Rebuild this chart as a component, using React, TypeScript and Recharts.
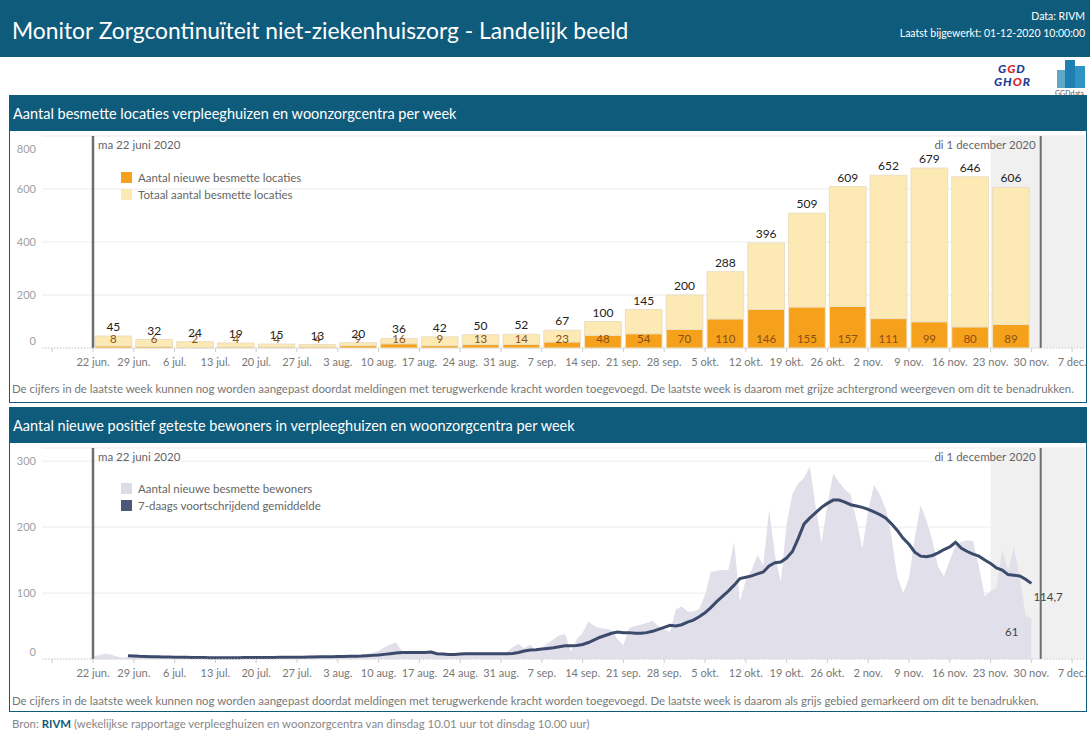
import React from "react";
import {
  Area,
  Bar,
  CartesianGrid,
  ComposedChart,
  LabelList,
  Line,
  ReferenceArea,
  ReferenceLine,
  XAxis,
  YAxis
} from "recharts";

// week ticks, day 0 = ma 22 juni 2020 (first tick is 15 jun, unlabeled)
const tickLabels = [
  "", "22 jun.", "29 jun.", "6 jul.", "13 jul.", "20 jul.", "27 jul.", "3 aug.", "10 aug.",
  "17 aug.", "24 aug.", "31 aug.", "7 sep.", "14 sep.", "21 sep.", "28 sep.", "5 okt.",
  "12 okt.", "19 okt.", "26 okt.", "2 nov.", "9 nov.", "16 nov.", "23 nov.", "30 nov.", "7 dec."
];
const tickDays = tickLabels.map((_, i) => (i - 1) * 7);

// weekly: total infected locations and new infected locations
const totaalLocaties = [45, 32, 24, 19, 15, 13, 20, 36, 42, 50, 52, 67, 100, 145, 200, 288, 396, 509, 609, 652, 679, 646, 606];
const nieuweLocaties = [8, 6, 2, 4, 4, 4, 9, 16, 9, 13, 14, 23, 48, 54, 70, 110, 146, 155, 157, 111, 99, 80, 89];

// daily new infected residents, 22 jun .. 30 nov
const nieuweBewoners = [
  3, 6, 8, 7, 4, 2, 3,
  5, 3, 2, 4, 3, 1, 2,
  2, 1, 3, 2, 1, 2, 1,
  1, 2, 3, 1, 2, 2, 3,
  2, 3, 1, 2, 4, 3, 2,
  3, 2, 4, 6, 5, 3, 2,
  4, 3, 5, 4, 6, 8, 10,
  12, 18, 22, 25, 12, 8, 9,
  9, 11, 14, 9, 6, 5, 7,
  8, 9, 7, 8, 10, 9, 8,
  7, 10, 18, 23, 16, 22, 13,
  16, 24, 30, 36, 38, 11, 30,
  40, 57, 50, 47, 46, 44, 30,
  21, 47, 50, 52, 55, 58, 50,
  45, 41, 75, 80, 72, 72, 76,
  97, 132, 134, 135, 135, 177, 87,
  120, 135, 158, 142, 226, 158, 117,
  205, 250, 266, 275, 292, 230, 176,
  235, 281, 268, 257, 250, 210, 168,
  225, 264, 250, 228, 185, 125, 100,
  122, 185, 233, 210, 180, 140, 125,
  150, 172, 178, 180, 179, 140, 95,
  103, 108, 165, 135, 170, 125, 66,
  61
];

// 7-day moving average, starts on day 6
const gemiddelde7 = [
  null, null, null, null, null, null, 5,
  4.5, 4, 3.8, 3.5, 3.3, 3, 3,
  2.8, 2.6, 2.5, 2.3, 2.2, 2.1, 2,
  1.9, 1.8, 1.8, 2, 2, 2.1, 2.1,
  2.2, 2.3, 2.4, 2.4, 2.5, 2.6, 2.7,
  2.7, 2.8, 3, 3.2, 3.5, 3.6, 3.6,
  3.7, 3.9, 4.1, 4.3, 4.5, 5, 5.5,
  6, 7, 8, 9, 10, 10, 10,
  10, 10, 10.5, 8, 7.5, 7, 7,
  7.5, 8, 8, 8, 8, 8, 8,
  8, 8, 8.5, 10, 12, 13.5, 14,
  15, 16, 17, 18.5, 20, 20, 20.5,
  22, 25, 29, 33, 36, 39, 41,
  40, 40, 39, 39, 40, 42, 45,
  48, 51, 50, 52, 56, 59, 64,
  70, 78, 87, 95, 103, 112, 122,
  124, 126, 129, 132, 141, 146, 147,
  153, 163, 183, 205, 214, 222, 230,
  236, 241, 241, 238, 234, 232, 230,
  227, 223, 219, 214, 205, 195, 183,
  174, 162, 156, 155, 157, 161, 166,
  170, 177, 168, 163, 159, 156, 150,
  145, 138, 135, 128, 127, 126, 121,
  114.7
];

const TEAL = "#0f5b7b";
const FONT = "Lato, 'Open Sans', sans-serif";
const X_DOMAIN = [-8.75, 170.2];
const LAST_WEEK = 154;
const TODAY = 162.6;

const locatieData = totaalLocaties.map((t, i) => ({
  dag: i * 7 + 3.5,
  nieuw: nieuweLocaties[i],
  rest: t - nieuweLocaties[i],
  totaal: t
}));

const bewonersData = nieuweBewoners.map((v, i) => ({
  dag: i,
  nieuw: v,
  gem: gemiddelde7[i]
}));

function DayTick(props: any) {
  const idx = tickDays.indexOf(props.payload.value);
  return (
    <text x={props.x} y={props.y + 12} textAnchor="middle" fontSize={11} fill="#777" fontFamily={FONT}>
      {idx >= 0 ? tickLabels[idx] : ""}
    </text>
  );
}

function makeValueTick(max: number) {
  return (props: any) => {
    const v = props.payload.value;
    const shift = v === max ? 10 : v === 0 ? -7 : 0;
    return (
      <text x={36} y={props.y + shift} dy="0.35em" textAnchor="end" fontSize={11} fill="#a0a0a0" fontFamily={FONT}>
        {v}
      </text>
    );
  };
}

function Legend({ items, top }: { items: { color: string; label: string }[]; top: number }) {
  return (
    <div style={{ position: "absolute", left: 121, top }}>
      {items.map((it) => (
        <div key={it.label} style={{ display: "flex", alignItems: "center", height: 17 }}>
          <div style={{ width: 11, height: 11, background: it.color, marginRight: 6 }} />
          <span style={{ fontSize: 11.5, color: "#666" }}>{it.label}</span>
        </div>
      ))}
    </div>
  );
}

function Panel({ top, height, title }: { top: number; height: number; title: string }) {
  return (
    <div style={{ position: "absolute", left: 9, top, width: 1078, height, border: `1.5px solid ${TEAL}`, boxSizing: "border-box" }}>
      <div style={{ background: TEAL, height: 35, color: "#fff", fontSize: 14.5, lineHeight: "35px", paddingLeft: 3 }}>
        {title}
      </div>
    </div>
  );
}

const refLabel = (value: string, position: "insideTopLeft" | "insideTopRight") => ({
  value,
  position,
  fill: "#666",
  fontSize: 11.5,
  fontFamily: FONT,
  offset: 5
});

export default function App() {
  return (
    <div style={{ position: "absolute", left: 0, top: 0, width: 1090, height: 733, background: "#fff", fontFamily: FONT, overflow: "hidden" }}>
      {/* header */}
      <div style={{ position: "absolute", left: 0, top: 0, width: 1090, height: 57, background: TEAL }} />
      <div style={{ position: "absolute", left: 12, top: 16, color: "#fff", fontSize: 22.8 }}>
        Monitor Zorgcontinuïteit niet-ziekenhuiszorg - Landelijk beeld
      </div>
      <div style={{ position: "absolute", right: 5, top: 8, color: "#fff", fontSize: 10.5, textAlign: "right", lineHeight: "17px" }}>
        <div>Data: RIVM</div>
        <div>Laatst bijgewerkt: 01-12-2020 10:00:00</div>
      </div>
      {/* logos */}
      <div style={{ position: "absolute", left: 994, top: 62, width: 56, lineHeight: "13px", fontSize: 12, fontWeight: 900, fontStyle: "italic", color: "#1d3f9a", letterSpacing: 1 }}>
        <div style={{ paddingLeft: 4 }}>G<span style={{ color: "#d62828" }}>G</span>D</div>
        <div>GH<span style={{ color: "#d62828" }}>O</span>R</div>
      </div>
      <svg style={{ position: "absolute", left: 1055, top: 58 }} width={35} height={40}>
        <rect x={2} y={12} width={8} height={18} fill="#5fa6c8" />
        <rect x={10} y={2} width={10} height={28} fill="#1f7fb0" />
        <rect x={20} y={8} width={10} height={22} fill="#2f93c4" />
        <text x={0} y={38} fontSize={7} fill="#555" fontFamily={FONT}>GGDdata</text>
      </svg>

      <Panel top={95} height={308} title="Aantal besmette locaties verpleeghuizen en woonzorgcentra per week" />
      <Panel top={407} height={305} title="Aantal nieuwe positief geteste bewoners in verpleeghuizen en woonzorgcentra per week" />

      {/* top chart */}
      <div style={{ position: "absolute", left: 0, top: 130 }}>
        <ComposedChart width={1090} height={250} data={locatieData} margin={{ top: 6, right: 5, bottom: 4, left: 0 }} barGap={0} barCategoryGap={0}>
          <ReferenceArea x1={LAST_WEEK} x2={X_DOMAIN[1]} fill="#f0f0f0" fillOpacity={1} stroke="none" />
          <CartesianGrid vertical={false} stroke="#ececec" />
          <XAxis
            type="number"
            dataKey="dag"
            domain={X_DOMAIN}
            ticks={tickDays}
            interval={0}
            allowDataOverflow
            tick={DayTick}
            tickSize={4}
            tickLine={{ stroke: "#ccc" }}
            axisLine={{ stroke: "#ccc", strokeDasharray: "1 2" }}
            height={28}
          />
          <YAxis type="number" domain={[0, 800]} ticks={[0, 200, 400, 600, 800]} width={42} axisLine={false} tickLine={false} tick={makeValueTick(800)} />
          <Bar dataKey="nieuw" stackId="a" fill="#f6a11c" stroke="#f1e4c6" strokeWidth={1} barSize={41} isAnimationActive={false}>
            <LabelList
              dataKey="nieuw"
              content={(p: any) => (
                <text x={p.x + p.width / 2} y={p.y + p.height - 9} dy="0.35em" textAnchor="middle" fontSize={11.5} fill="#8a4f14" fontFamily={FONT}>
                  {p.value}
                </text>
              )}
            />
          </Bar>
          <Bar dataKey="rest" stackId="a" fill="#fde9b4" stroke="#ebdfc2" strokeWidth={1} barSize={41} isAnimationActive={false}>
            <LabelList
              dataKey="totaal"
              content={(p: any) => (
                <text x={p.x + p.width / 2} y={p.y - 5} textAnchor="middle" fontSize={12} fill="#222" fontFamily={FONT}>
                  {p.value}
                </text>
              )}
            />
          </Bar>
          <ReferenceLine x={0} stroke="#6e6e6e" strokeWidth={2.5} label={refLabel("ma 22 juni 2020", "insideTopLeft")} />
          <ReferenceLine x={TODAY} stroke="#6e6e6e" strokeWidth={2} label={refLabel("di 1 december 2020", "insideTopRight")} />
        </ComposedChart>
      </div>
      <Legend
        top={169}
        items={[
          { color: "#f6a11c", label: "Aantal nieuwe besmette locaties" },
          { color: "#fde9b4", label: "Totaal aantal besmette locaties" }
        ]}
      />
      <div style={{ position: "absolute", left: 12, top: 382, fontSize: 11.45, color: "#777", whiteSpace: "nowrap" }}>
        De cijfers in de laatste week kunnen nog worden aangepast doordat meldingen met terugwerkende kracht worden toegevoegd. De laatste week is daarom met grijze achtergrond weergeven om dit te benadrukken.
      </div>

      {/* bottom chart */}
      <div style={{ position: "absolute", left: 0, top: 440 }}>
        <ComposedChart width={1090} height={250} data={bewonersData} margin={{ top: 8, right: 5, bottom: 4, left: 0 }}>
          <ReferenceArea x1={LAST_WEEK} x2={X_DOMAIN[1]} fill="#f0f0f0" fillOpacity={1} stroke="none" />
          <CartesianGrid vertical={false} stroke="#ececec" />
          <XAxis
            type="number"
            dataKey="dag"
            domain={X_DOMAIN}
            ticks={tickDays}
            interval={0}
            allowDataOverflow
            tick={DayTick}
            tickSize={4}
            tickLine={{ stroke: "#ccc" }}
            axisLine={{ stroke: "#ccc", strokeDasharray: "1 2" }}
            height={27}
          />
          <YAxis type="number" domain={[0, 320]} ticks={[0, 100, 200, 300]} width={42} axisLine={false} tickLine={false} tick={makeValueTick(320)} />
          <Area type="linear" dataKey="nieuw" fill="#e1e0ea" fillOpacity={1} stroke="none" isAnimationActive={false}>
            <LabelList
              dataKey="nieuw"
              content={(p: any) =>
                p.index === nieuweBewoners.length - 1 ? (
                  <text x={p.x - 13} y={p.y + 13} dy="0.35em" textAnchor="end" fontSize={11.5} fill="#444" fontFamily={FONT}>
                    {p.value}
                  </text>
                ) : null
              }
            />
          </Area>
          <Line type="linear" dataKey="gem" stroke="#3c4a6c" strokeWidth={3} dot={false} connectNulls={false} isAnimationActive={false}>
            <LabelList
              dataKey="gem"
              content={(p: any) =>
                p.index === gemiddelde7.length - 1 ? (
                  <text x={p.x + 2} y={p.y + 14} dy="0.35em" textAnchor="start" fontSize={11.5} fill="#444" fontFamily={FONT}>
                    {String(p.value).replace(".", ",")}
                  </text>
                ) : null
              }
            />
          </Line>
          <ReferenceLine x={0} stroke="#6e6e6e" strokeWidth={2.5} label={refLabel("ma 22 juni 2020", "insideTopLeft")} />
          <ReferenceLine x={TODAY} stroke="#6e6e6e" strokeWidth={2} label={refLabel("di 1 december 2020", "insideTopRight")} />
        </ComposedChart>
      </div>
      <Legend
        top={480}
        items={[
          { color: "#dcdce6", label: "Aantal nieuwe besmette bewoners" },
          { color: "#4d5878", label: "7-daags voortschrijdend gemiddelde" }
        ]}
      />
      <div style={{ position: "absolute", left: 12, top: 694, fontSize: 11.45, color: "#777", whiteSpace: "nowrap" }}>
        De cijfers in de laatste week kunnen nog worden aangepast doordat meldingen met terugwerkende kracht worden toegevoegd. De laatste week is daarom als grijs gebied gemarkeerd om dit te benadrukken.
      </div>
      <div style={{ position: "absolute", left: 12, top: 717, fontSize: 11.4, color: "#888", whiteSpace: "nowrap" }}>
        Bron: <b style={{ color: TEAL }}>RIVM</b> (wekelijkse rapportage verpleeghuizen en woonzorgcentra van dinsdag 10.01 uur tot dinsdag 10.00 uur)
      </div>
    </div>
  );
}
